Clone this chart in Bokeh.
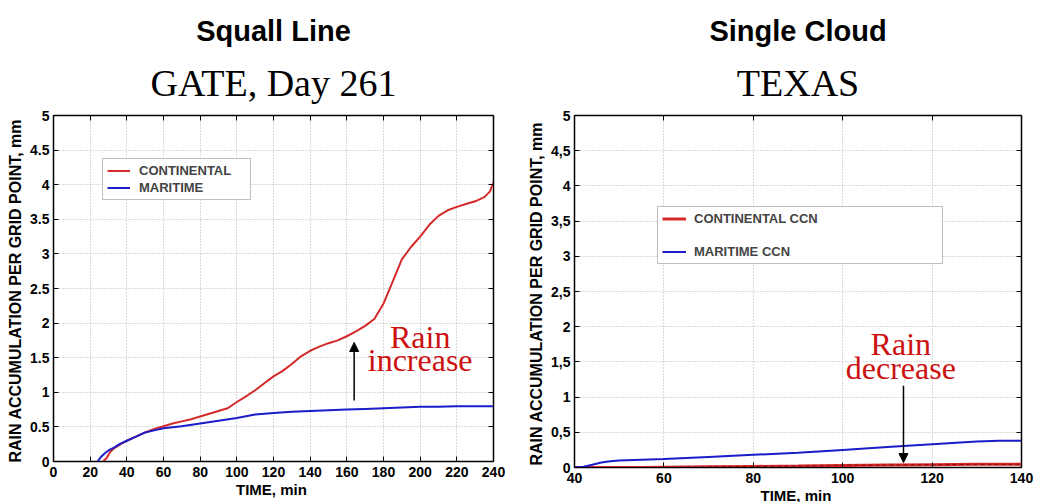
from bokeh.plotting import figure
from bokeh.layouts import row
from bokeh.models import (Title, Legend, LegendItem, LinearAxis, FixedTicker,
                          Arrow, NormalHead, Range1d, CustomLabelingPolicy)
from bokeh.core.properties import value
from bokeh.embed import file_html
from bokeh.resources import INLINE

# ---------------- data ----------------
# Squall line, GATE day 261
gate_cont_time = [27, 29, 31, 33, 36, 40, 45, 50, 55, 60, 65, 70, 75, 80, 85, 90, 95,
                  100, 105, 110, 115, 120, 125, 130, 135, 140, 145, 150, 155, 160, 165,
                  170, 175, 180, 185, 190, 195, 200, 205, 210, 215, 220, 225, 230, 235,
                  238, 240]
gate_cont_rain = [0, 0.05, 0.14, 0.19, 0.24, 0.30, 0.36, 0.42, 0.47, 0.51, 0.55, 0.58,
                  0.61, 0.65, 0.69, 0.73, 0.77, 0.86, 0.94, 1.03, 1.13, 1.23, 1.31, 1.41,
                  1.52, 1.60, 1.66, 1.71, 1.75, 1.81, 1.88, 1.96, 2.06, 2.28, 2.60, 2.92,
                  3.10, 3.25, 3.42, 3.55, 3.63, 3.68, 3.72, 3.76, 3.82, 3.90, 4.03]
gate_mar_time = [24, 26, 28, 30, 33, 36, 40, 45, 50, 55, 60, 70, 80, 90, 100, 110, 120,
                 130, 140, 150, 160, 170, 180, 190, 200, 210, 220, 230, 240]
gate_mar_rain = [0, 0.07, 0.12, 0.16, 0.20, 0.25, 0.30, 0.36, 0.42, 0.45, 0.48, 0.51,
                 0.55, 0.59, 0.63, 0.68, 0.70, 0.72, 0.73, 0.74, 0.75, 0.76, 0.77, 0.78,
                 0.79, 0.79, 0.80, 0.80, 0.80]
gate_x_ticks = [0, 20, 40, 60, 80, 100, 120, 140, 160, 180, 200, 220, 240]
gate_y_ticks = [0, 0.5, 1, 1.5, 2, 2.5, 3, 3.5, 4, 4.5, 5]
gate_y_labels = ["0", "0.5", "1", "1.5", "2", "2.5", "3", "3.5", "4", "4.5", "5"]

# Single cloud, Texas
texas_cont_time = [40, 55, 60, 70, 80, 90, 100, 110, 120, 130, 140]
texas_cont_rain = [0, 0, 0.005, 0.01, 0.015, 0.02, 0.03, 0.035, 0.04, 0.045, 0.045]
texas_mar_time = [40, 42, 44, 46, 48, 50, 55, 60, 70, 80, 90, 100, 110, 120, 130, 135, 140]
texas_mar_rain = [0, 0.01, 0.04, 0.07, 0.09, 0.10, 0.11, 0.12, 0.15, 0.18, 0.21, 0.25,
                  0.29, 0.33, 0.37, 0.38, 0.38]
texas_x_ticks = [40, 60, 80, 100, 120, 140]
texas_y_ticks = [0, 0.5, 1, 1.5, 2, 2.5, 3, 3.5, 4, 4.5, 5]
texas_y_labels = ["0", "0,5", "1", "1,5", "2", "2,5", "3", "3,5", "4", "4,5", "5"]

RED = "#d42a2a"
BLUE = "#1c1cc8"
TXT_RED = "#cc1111"
SANS = "Liberation Sans"
SERIF = "Liberation Serif"


def style_axis(ax, label_size="14px", title_size="16px"):
    ax.major_tick_in = 5
    ax.major_tick_out = 0
    ax.minor_tick_line_color = None
    ax.axis_line_color = "black"
    ax.major_tick_line_color = "black"
    ax.major_label_text_font = SANS
    ax.major_label_text_font_style = "bold"
    ax.major_label_text_font_size = label_size
    ax.major_label_text_color = "black"
    ax.axis_label_text_font = SANS
    ax.axis_label_text_font_style = "bold"
    ax.axis_label_text_font_size = title_size
    ax.axis_label_text_color = "black"


def make_panel(xr, xticks, yticks, ylabels, fw, fh, bl, br, bt, bb):
    p = figure(x_range=Range1d(*xr), y_range=Range1d(0, 5),
               frame_width=fw, frame_height=fh,
               min_border_left=bl, min_border_right=br,
               min_border_top=bt, min_border_bottom=bb,
               output_backend="svg", toolbar_location=None,
               background_fill_color="white", border_fill_color="white")
    p.outline_line_color = "black"
    p.outline_line_width = 1.5
    p.xaxis.ticker = FixedTicker(ticks=xticks)
    p.yaxis.ticker = FixedTicker(ticks=yticks)
    p.yaxis.major_label_overrides = {t: l for t, l in zip(yticks, ylabels)}
    p.xaxis.axis_label = "TIME,  min"
    p.yaxis.axis_label = "RAIN ACCUMULATION PER GRID POINT,  mm"
    p.xaxis.axis_label_standoff = 1
    p.yaxis.axis_label_standoff = 3
    p.xaxis.major_label_standoff = 5
    p.yaxis.major_label_standoff = 4
    style_axis(p.xaxis[0], title_size="15px")
    style_axis(p.yaxis[0], title_size="16px")
    p.xgrid.ticker = FixedTicker(ticks=xticks)
    p.ygrid.ticker = FixedTicker(ticks=yticks)
    for g in (p.xgrid[0], p.ygrid[0]):
        g.grid_line_color = "#b4b4b4"
        g.grid_line_dash = "1 2"
        g.grid_line_width = 1
    # mirrored ticks on top and right (no labels)
    hide = "for (const i of Array.from(indices)) { indices.unset(i) }; return indices"
    top = LinearAxis(ticker=FixedTicker(ticks=xticks), major_label_standoff=0,
                     major_label_policy=CustomLabelingPolicy(code=hide))
    right = LinearAxis(ticker=FixedTicker(ticks=yticks), major_label_standoff=0,
                       major_label_policy=CustomLabelingPolicy(code=hide))
    for ax in (top, right):
        ax.major_tick_in = 5
        ax.major_tick_out = 0
        ax.minor_tick_line_color = None
        ax.axis_line_color = "black"
        ax.major_tick_line_color = "black"
        ax.major_label_text_font_size = "8px"
    p.add_layout(top, "above")
    p.add_layout(right, "right")
    return p


# ---------------- left panel ----------------
p1 = make_panel((0, 240), gate_x_ticks, gate_y_ticks, gate_y_labels,
                440, 346, 53, 28, 115, 41)
r1 = p1.line(gate_cont_time, gate_cont_rain, line_color=RED, line_width=2)
r2 = p1.line(gate_mar_time, gate_mar_rain, line_color=BLUE, line_width=2)
leg1 = Legend(items=[LegendItem(label="CONTINENTAL", renderers=[r1]),
                     LegendItem(label="MARITIME", renderers=[r2])],
              location=(49, 261), padding=4, spacing=2, label_height=13,
              glyph_height=13, glyph_width=23, label_standoff=9, margin=0,
              border_line_color="#808080", border_line_width=1,
              label_text_font=SANS, label_text_font_style="bold",
              label_text_font_size="13px", label_width=107)
p1.add_layout(leg1, "center")
p1.text(x=[200, 200], y=[1.8, 1.47], text=["Rain", "increase"],
        text_font=value(SERIF), text_font_size="32px", text_color=TXT_RED,
        text_align="center", text_baseline="middle")
p1.add_layout(Arrow(end=NormalHead(size=9, fill_color="black", line_color="black"),
                    x_start=164, y_start=0.88, x_end=164, y_end=1.72,
                    line_color="black", line_width=1.5))
p1.add_layout(Title(text="GATE, Day 261", align="center", offset=-3, standoff=8,
                    text_font=SERIF, text_font_style="normal",
                    text_font_size="38px", text_color="black"), "above")
p1.add_layout(Title(text="Squall Line", align="center", offset=-10, standoff=17,
                    text_font=SANS, text_font_style="bold",
                    text_font_size="29px", text_color="black"), "above")

# ---------------- right panel ----------------
p2 = make_panel((40, 140), texas_x_ticks, texas_y_ticks, texas_y_labels,
                447, 352, 53, 21, 115, 35)
r3 = p2.line(texas_cont_time, texas_cont_rain, line_color=RED, line_width=3)
p2.line(texas_cont_time, texas_cont_rain, line_color="#8a0a0a", line_width=1,
        line_dash="4 3")
r4 = p2.line(texas_mar_time, texas_mar_rain, line_color=BLUE, line_width=2)
leg2 = Legend(items=[LegendItem(label="CONTINENTAL CCN", renderers=[r3]),
                     LegendItem(label="MARITIME CCN", renderers=[r4])],
              location=(83, 203), padding=4, spacing=18, label_height=13,
              glyph_height=13, glyph_width=24, label_standoff=8, margin=0,
              border_line_color="#808080", border_line_width=1,
              label_text_font=SANS, label_text_font_style="bold",
              label_text_font_size="13px", label_width=244)
p2.add_layout(leg2, "center")
p2.text(x=[113, 113], y=[1.76, 1.42], text=["Rain", "decrease"],
        text_font=value(SERIF), text_font_size="32px", text_color=TXT_RED,
        text_align="center", text_baseline="middle")
p2.add_layout(Arrow(end=NormalHead(size=9, fill_color="black", line_color="black"),
                    x_start=113.6, y_start=1.16, x_end=113.6, y_end=0.07,
                    line_color="black", line_width=1.5))
p2.add_layout(Title(text="TEXAS", align="center", offset=-7, standoff=8,
                    text_font=SERIF, text_font_style="normal",
                    text_font_size="38px", text_color="black"), "above")
p2.add_layout(Title(text="Single Cloud", align="center", offset=-6, standoff=17,
                    text_font=SANS, text_font_style="bold",
                    text_font_size="29px", text_color="black"), "above")

layout = row(p1, p2)
open("out.html", "w").write(file_html(layout, INLINE))
